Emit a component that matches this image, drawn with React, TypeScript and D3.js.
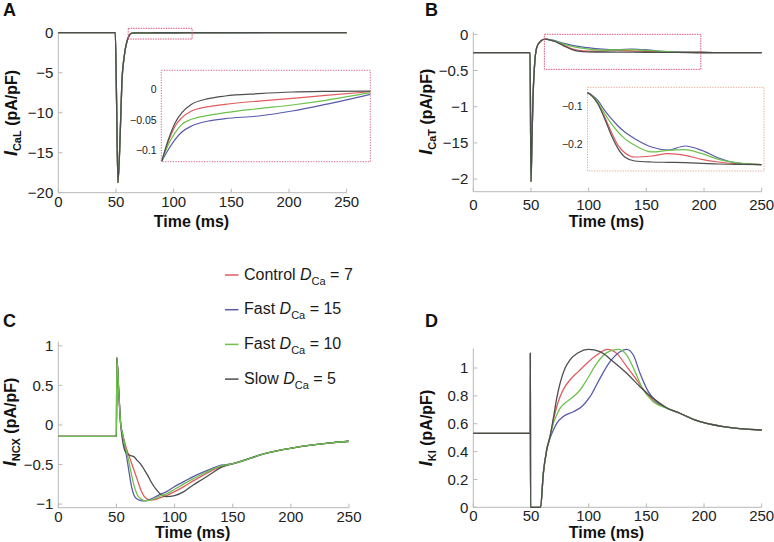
import React from 'react';
import * as d3 from 'd3';

const FONT = '"Liberation Sans", Arial, Helvetica, sans-serif';
const AXIS_COLOR = '#b8b8b8';
const TEXT_COLOR = '#222222';

// Series order: Control D=7 (red), Fast D=15 (blue), Fast D=10 (green), Slow D=5 (black)
const seriesColors = ['#e05a5e', '#5a5aaa', '#6cc24c', '#4d4d4d'];
const legendNames = ['Control', 'Fast', 'Fast', 'Slow'];
const legendValues = ['7', '15', '10', '5'];

const timeTicks = [0, 50, 100, 150, 200, 250];
const timeTickLabels = ['0', '50', '100', '150', '200', '250'];

// ---------- Panel A: I_CaL ----------
const aYTicks = [0, -5, -10, -15, -20];
const aYTickLabels = ['0', '−5', '−10', '−15', '−20'];
const aSpikeT = [0, 49.4, 50.5, 51.7, 53.7, 55.1, 57.1, 59.5, 61.5];
const aSpikeV = [0, 0, -8.4, -18.75, -12.5, -6.3, -3, -1.1, -0.35];
const aTailT = [250];
const aTailV = [0];
const aInsetT = [60, 61.8, 63.6, 65.4, 68, 72.5, 77, 86, 95, 104, 116];
const aInsetRed = [-0.117, -0.0843, -0.0598, -0.0462, -0.0354, -0.0283, -0.0245, -0.0191, -0.0147, -0.0098, -0.0039];
const aInsetBlue = [-0.117, -0.0978, -0.0815, -0.0696, -0.0598, -0.0517, -0.0478, -0.0435, -0.0354, -0.0245, -0.0082];
const aInsetGreen = [-0.117, -0.0897, -0.0707, -0.0571, -0.0489, -0.0424, -0.0381, -0.0316, -0.0256, -0.018, -0.0055];
const aInsetBlack = [-0.117, -0.0815, -0.0544, -0.0381, -0.0245, -0.0153, -0.0109, -0.0071, -0.0044, -0.0033, -0.0028];
const aInsetTicks = [0, -0.05, -0.1];
const aInsetTickLabels = ['0', '−0.05', '−0.1'];
const aZoomT = [60.6, 116];
const aZoomV = [0.55, -0.79];

// ---------- Panel B: I_CaT ----------
const bYTicks = [0, -0.5, -1, -1.5, -2];
const bYTickLabels = ['0', '−0.5', '−1', '−15', '−2'];
const bSpikeT = [0, 49.2, 50, 50.8, 51.7, 53, 55, 58];
const bSpikeV = [-0.252, -0.252, -2.035, -1.5, -0.9, -0.45, -0.18, -0.1];
const bTailT = [220, 250];
const bTailV = [-0.252, -0.252];
const bInsetT = [62, 65, 70, 75.3, 80.5, 85.7, 90.9, 98.7, 111.7, 124.7, 137.7, 150.7, 163.7, 176.7, 197];
const bInsetRed = [-0.0655, -0.0724, -0.0922, -0.1284, -0.1672, -0.2016, -0.2206, -0.2318, -0.2292, -0.2232, -0.2275, -0.2378, -0.2447, -0.249, -0.2516];
const bInsetBlue = [-0.0655, -0.0707, -0.0854, -0.1112, -0.1327, -0.1517, -0.1672, -0.1844, -0.206, -0.2137, -0.2034, -0.2146, -0.2344, -0.2464, -0.2516];
const bInsetGreen = [-0.0655, -0.0724, -0.0897, -0.1198, -0.1457, -0.1672, -0.1844, -0.2016, -0.2188, -0.2146, -0.2128, -0.2232, -0.2378, -0.2464, -0.2516];
const bInsetBlack = [-0.0655, -0.0724, -0.094, -0.1327, -0.1758, -0.2102, -0.2318, -0.2421, -0.2447, -0.2456, -0.2464, -0.2481, -0.2499, -0.2507, -0.2516];
const bInsetTicks = [-0.1, -0.2];
const bInsetTickLabels = ['−0.1', '−0.2'];
const bZoomT = [61.6, 197.2];
const bZoomV = [0, -0.484];

// ---------- Panel C: I_NCX ----------
const cYTicks = [1, 0.5, 0, -0.5, -1];
const cYTickLabels = ['1', '0.5', '0', '−0.5', '−1'];
const cPreT = [0, 50, 50.3, 52, 53.7];
const cPreV = [-0.145, -0.145, 0.85, 0.42, 0.0];
const cT = [55, 57, 59, 61, 63, 65, 68, 71, 74, 77, 80, 84, 88, 93, 100, 108, 116, 124, 132, 140];
const cRed = [-0.105, -0.21, -0.316, -0.4, -0.484, -0.568, -0.694, -0.821, -0.905, -0.939, -0.947, -0.939, -0.918, -0.892, -0.842, -0.779, -0.707, -0.64, -0.577, -0.526];
const cBlue = [-0.084, -0.253, -0.421, -0.61, -0.779, -0.884, -0.939, -0.955, -0.96, -0.951, -0.934, -0.905, -0.875, -0.842, -0.779, -0.716, -0.652, -0.598, -0.551, -0.509];
const cGreen = [-0.097, -0.231, -0.358, -0.484, -0.631, -0.758, -0.884, -0.934, -0.955, -0.955, -0.947, -0.926, -0.896, -0.871, -0.812, -0.745, -0.678, -0.619, -0.564, -0.518];
const cBlack = [-0.168, -0.316, -0.358, -0.379, -0.391, -0.4, -0.45, -0.497, -0.568, -0.64, -0.724, -0.812, -0.875, -0.905, -0.892, -0.842, -0.758, -0.686, -0.61, -0.535];
const cTailT = [150, 179, 208, 236.5, 250];
const cTailV = [-0.49, -0.357, -0.274, -0.223, -0.206];

// ---------- Panel D: I_K1 ----------
const dYTicks = [0, 0.2, 0.4, 0.6, 0.8, 1];
const dYTickLabels = ['0', '0.2', '0.4', '0.6', '0.8', '1'];
const dPreT = [0, 49.4, 49.5, 49.6, 58.3, 60.7, 63.6];
const dPreV = [0.531, 0.531, 1.11, 0, 0, 0.244, 0.411];
const dRedT = [66.5, 69.4, 72.3, 75.2, 79.5, 83.8, 91, 98.3, 107, 116.2, 124.3, 133, 141.6, 150.3, 158.9, 167.6];
const dRedV = [0.507, 0.627, 0.722, 0.794, 0.866, 0.914, 0.974, 1.033, 1.093, 1.134, 1.105, 1.01, 0.914, 0.818, 0.746, 0.712];
const dBlueT = [66.5, 69.4, 72.3, 78, 86.7, 93.9, 101.2, 109.8, 118.5, 127.2, 133, 138.7, 144.5, 151.7, 158.9, 167.6];
const dBlueV = [0.495, 0.555, 0.603, 0.651, 0.686, 0.722, 0.794, 0.926, 1.045, 1.117, 1.134, 1.093, 0.962, 0.83, 0.758, 0.712];
const dGreenT = [66.5, 69.4, 72.3, 75.2, 80.9, 86.7, 92.5, 98.3, 107, 115.6, 125.7, 133, 140.2, 147.4, 156, 167.6];
const dGreenV = [0.507, 0.603, 0.663, 0.71, 0.758, 0.794, 0.842, 0.914, 1.033, 1.11, 1.134, 1.093, 0.974, 0.842, 0.758, 0.712];
const dBlackT = [66.5, 69.4, 72.3, 75.2, 79.5, 83.8, 91, 99.7, 109.8, 121.4, 133, 144.5, 156, 167.6];
const dBlackV = [0.507, 0.64, 0.782, 0.89, 0.998, 1.058, 1.11, 1.134, 1.117, 1.045, 0.962, 0.866, 0.782, 0.715];
const dTailT = [179, 192, 217, 250];
const dTailV = [0.675, 0.628, 0.579, 0.555];

type Pt = [number, number];
const zip = (t: number[], v: number[]): Pt[] => t.map((x, i) => [x, v[i]] as Pt);

const aInsetSeries = [aInsetRed, aInsetBlue, aInsetGreen, aInsetBlack].map((v) => zip(aInsetT, v));
const aSeries = aInsetSeries.map((s) => [
  ...zip(aSpikeT, aSpikeV),
  ...s.filter((d) => d[0] > 62),
  ...zip(aTailT, aTailV),
]);
const bInsetSeries = [bInsetRed, bInsetBlue, bInsetGreen, bInsetBlack].map((v) => zip(bInsetT, v));
const bSeries = bInsetSeries.map((s) => [...zip(bSpikeT, bSpikeV), ...s, ...zip(bTailT, bTailV)]);
const cSeries = [cRed, cBlue, cGreen, cBlack].map((v) => [
  ...zip(cPreT, cPreV),
  ...zip(cT, v),
  ...zip(cTailT, cTailV),
]);
const dSeries = [
  zip(dRedT, dRedV),
  zip(dBlueT, dBlueV),
  zip(dGreenT, dGreenV),
  zip(dBlackT, dBlackV),
].map((s) => [...zip(dPreT, dPreV), ...s, ...zip(dTailT, dTailV)]);

type PanelSpec = {
  letter: string;
  lx: number;
  ly: number;
  xr: [number, number];
  yr: [number, number];
  yd: [number, number];
  yTicks: number[];
  yLabels: string[];
  tickBase: number;
  timeBase: number;
  ylx: number;
  ylcy: number;
  sub: string;
  series: Pt[][];
  order: number[];
};

const panels: PanelSpec[] = [
  { letter: 'A', lx: 3, ly: 15.5, xr: [58.3, 346.7], yr: [192.7, 31.7], yd: [-20, 0.125], yTicks: aYTicks, yLabels: aYTickLabels, tickBase: 206.5, timeBase: 227, ylx: 17, ylcy: 113, sub: 'CaL', series: aSeries, order: [0, 1, 2, 3] },
  { letter: 'B', lx: 425, ly: 15.5, xr: [473.3, 761.7], yr: [191.7, 31.7], yd: [-2.174, 0.036], yTicks: bYTicks, yLabels: bYTickLabels, tickBase: 210, timeBase: 227, ylx: 432, ylcy: 111.7, sub: 'CaT', series: bSeries, order: [0, 1, 2, 3] },
  { letter: 'C', lx: 3, ly: 327, xr: [58.3, 349], yr: [507.7, 341.7], yd: [-1.0455, 1.052], yTicks: cYTicks, yLabels: cYTickLabels, tickBase: 522, timeBase: 537.5, ylx: 15.5, ylcy: 422, sub: 'NCX', series: cSeries, order: [0, 1, 3, 2] },
  { letter: 'D', lx: 425, ly: 327, xr: [473.3, 761.7], yr: [507.3, 348.5], yd: [0, 1.14], yTicks: dYTicks, yLabels: dYTickLabels, tickBase: 521, timeBase: 537.5, ylx: 432, ylcy: 428, sub: 'KI', series: dSeries, order: [0, 1, 2, 3] },
];

function makeLine(xs: d3.ScaleLinear<number, number>, ys: d3.ScaleLinear<number, number>) {
  return d3
    .line<Pt>()
    .x((d) => xs(d[0]))
    .y((d) => ys(d[1]))
    .curve(d3.curveMonotoneX);
}

function Panel({ p, children }: { p: PanelSpec; children?: (xs: any, ys: any) => React.ReactNode }) {
  const xs = d3.scaleLinear().domain([0, 250]).range(p.xr);
  const ys = d3.scaleLinear().domain(p.yd).range(p.yr);
  const line = makeLine(xs, ys);
  const x0 = p.xr[0];
  const yb = p.yr[0];
  return (
    <g>
      <text x={p.lx} y={p.ly} fontSize={18} fontWeight="bold" fill="#111">{p.letter}</text>
      <line x1={x0} x2={x0} y1={p.yr[0]} y2={p.yr[1]} stroke={AXIS_COLOR} strokeWidth={1} />
      <line x1={x0} x2={p.xr[1]} y1={yb} y2={yb} stroke={AXIS_COLOR} strokeWidth={1} />
      {p.yTicks.map((t, i) => (
        <g key={'y' + i}>
          <line x1={x0} x2={x0 + 4} y1={ys(t)} y2={ys(t)} stroke={AXIS_COLOR} />
          <text x={x0 - 5} y={ys(t)} dy="0.35em" textAnchor="end" fontSize={15} fill={TEXT_COLOR}>{p.yLabels[i]}</text>
        </g>
      ))}
      {timeTicks.map((t, i) => (
        <g key={'x' + i}>
          <line x1={xs(t)} x2={xs(t)} y1={yb} y2={yb - 4} stroke={AXIS_COLOR} />
          <text x={xs(t)} y={p.tickBase} textAnchor="middle" fontSize={15} fill={TEXT_COLOR}>{timeTickLabels[i]}</text>
        </g>
      ))}
      <text x={(p.xr[0] + p.xr[1]) / 2 - 11} y={p.timeBase} textAnchor="middle" fontSize={16} fontWeight="bold" fill="#111">Time (ms)</text>
      <text transform={`translate(${p.ylx},${p.ylcy}) rotate(-90)`} textAnchor="middle" fontSize={16} fontWeight="bold" fill="#111">
        <tspan fontStyle="italic" fontSize={18}>I</tspan>
        <tspan fontSize={11} dy={4}>{p.sub}</tspan>
        <tspan dy={-4}> (pA/pF)</tspan>
      </text>
      {p.order.map((k) => (
        <path key={'s' + k} d={line(p.series[k]) || ''} fill="none" stroke={seriesColors[k]} strokeWidth={1.3} strokeLinejoin="round" />
      ))}
      {children ? children(xs, ys) : null}
    </g>
  );
}

function Inset({
  rect, xDom, xRng, yDom, yRng, series, ticks, tickLabels, labelRight, border,
}: {
  rect: [number, number, number, number];
  xDom: [number, number];
  xRng: [number, number];
  yDom: [number, number];
  yRng: [number, number];
  series: Pt[][];
  ticks: number[];
  tickLabels: string[];
  labelRight: number;
  border: string;
}) {
  const xs = d3.scaleLinear().domain(xDom).range(xRng);
  const ys = d3.scaleLinear().domain(yDom).range(yRng);
  const line = makeLine(xs, ys);
  return (
    <g>
      <rect x={rect[0]} y={rect[1]} width={rect[2] - rect[0]} height={rect[3] - rect[1]} fill="white" stroke={border} strokeWidth={1} strokeDasharray="1.3,1.3" />
      {ticks.map((t, i) => (
        <text key={i} x={labelRight} y={ys(t)} dy="0.35em" textAnchor="end" fontSize={10.5} fill={TEXT_COLOR}>{tickLabels[i]}</text>
      ))}
      {[0, 1, 2, 3].map((k) => (
        <path key={k} d={line(series[k]) || ''} fill="none" stroke={seriesColors[k]} strokeWidth={1.2} />
      ))}
    </g>
  );
}

function ZoomBox({ xs, ys, t, v, color }: { xs: any; ys: any; t: number[]; v: number[]; color: string }) {
  const x1 = xs(t[0]);
  const x2 = xs(t[1]);
  const y1 = ys(v[0]);
  const y2 = ys(v[1]);
  return <rect x={x1} y={y1} width={x2 - x1} height={y2 - y1} fill="none" stroke={color} strokeWidth={1} strokeDasharray="1.5,1" />;
}

function Legend() {
  const y0 = 275;
  const step = 34.7;
  return (
    <g>
      {legendNames.map((n, i) => {
        const y = y0 + i * step;
        return (
          <g key={i}>
            <line x1={225} x2={238.5} y1={y} y2={y} stroke={seriesColors[i]} strokeWidth={1.5} />
            <text x={244} y={y + 4.5} fontSize={16} fill="#1a1a1a">
              {n + ' '}
              <tspan fontStyle="italic">D</tspan>
              <tspan fontSize={11} dy={5}>Ca</tspan>
              <tspan dy={-5}>{' = ' + legendValues[i]}</tspan>
            </text>
          </g>
        );
      })}
    </g>
  );
}

export default function App() {
  return (
    <svg width={774} height={542} style={{ position: 'absolute', left: 0, top: 0, background: 'white' }} fontFamily={FONT}>
      <rect x={0} y={0} width={774} height={542} fill="white" />
      <Panel p={panels[0]}>
        {(xs, ys) => (
          <g>
            <ZoomBox xs={xs} ys={ys} t={aZoomT} v={aZoomV} color="#d8557a" />
            <Inset
              rect={[161.3, 70.3, 370.3, 161.7]}
              xDom={[60, 116]}
              xRng={[161.8, 370.3]}
              yDom={[-0.118, 0.031]}
              yRng={[161.7, 70.3]}
              series={aInsetSeries}
              ticks={aInsetTicks}
              tickLabels={aInsetTickLabels}
              labelRight={156.7}
              border="#da6a84"
            />
          </g>
        )}
      </Panel>
      <Panel p={panels[1]}>
        {(xs, ys) => (
          <g>
            <ZoomBox xs={xs} ys={ys} t={bZoomT} v={bZoomV} color="#d8557a" />
            <Inset
              rect={[587.5, 87.3, 764, 171]}
              xDom={[62, 197]}
              xRng={[587.5, 761.5]}
              yDom={[-0.2672, -0.0514]}
              yRng={[170.7, 87.2]}
              series={bInsetSeries}
              ticks={bInsetTicks}
              tickLabels={bInsetTickLabels}
              labelRight={582.7}
              border="#e6aa98"
            />
          </g>
        )}
      </Panel>
      <Panel p={panels[2]} />
      <Panel p={panels[3]} />
      <Legend />
    </svg>
  );
}
